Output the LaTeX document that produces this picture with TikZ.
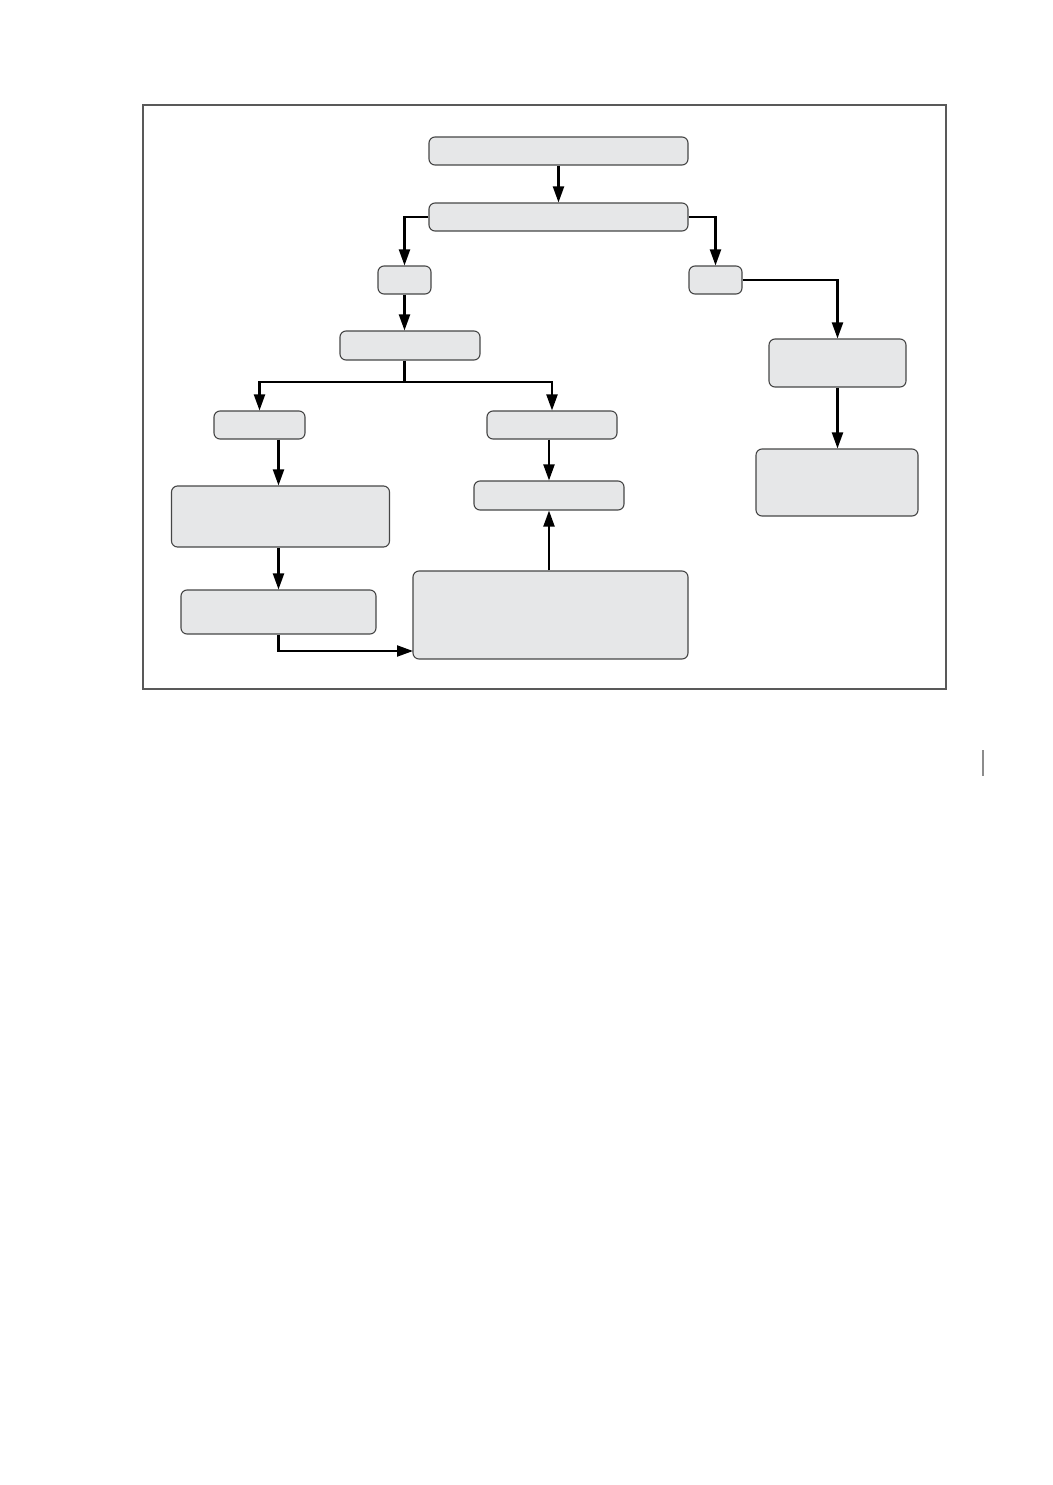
\documentclass[tikz,border=0pt]{standalone}
\usetikzlibrary{arrows.meta}
\usepackage{xcolor}
\definecolor{boxgray}{RGB}{230, 231, 232}
\definecolor{rimgray}{RGB}{70, 70, 70}

\begin{document}
\begin{tikzpicture}[x=1pt,y=-1pt,
    box/.style={draw=rimgray,fill=boxgray,line width=1.1pt,rounded corners=6pt,inner sep=0pt},
    link/.style={line width=2.1pt,-{Triangle[length=16pt,width=11pt]}}]
    \useasboundingbox (0,0) rectangle (1052,1485);
    % outer frame
    \draw[black!65,line width=1.2pt] (143,105) rectangle (946,689);
    %Notation: {name/centre x/centre y/width/height}
    \foreach \nm/\cx/\cy/\w/\h in {
        top/558.5/151/259/28, second/558.5/217/259/28,
        lsmall/404.5/280/53/28, rsmall/715.5/280/53/28,
        mid/410/345.5/140/29,
        lft/259.5/425/91/28, ctr/552/425/130/28,
        rone/837.5/363/137/48, rtwo/837/482.5/162/67,
        lbig/280.5/516.5/218/61, llow/278.5/612/195/44,
        cbox/549/495.5/150/29, big/550.5/615/275/88}{
        \node[box,minimum width=\w pt,minimum height=\h pt] (\nm) at (\cx,\cy) {};% Draw the box
    }
    \coordinate (split) at (404.5,382);
    \coordinate (entry) at (413,651);
    \coordinate (lcol) at (278.5,0);% column of the left arrows
    % Draw the connectors
    \draw[link] (top) -- (second);
    \draw[link] (second.west) -| (lsmall);
    \draw[link] (second.east) -| (rsmall);
    \draw[link] (lsmall) -- (lsmall |- mid.north);
    \draw[line width=2.1pt] (split |- mid.south) -- (split);
    \draw[link] (split) -| (lft);
    \draw[link] (split) -| (ctr);
    \draw[link] (rsmall.east) -| (rone);
    \draw[link] (rone.south) -- (rone.south |- rtwo.north);
    \draw[link] (lft.south -| lcol) -- (lbig.north -| lcol);
    \draw[link] (lbig.south -| lcol) -- (llow.north -| lcol);
    \draw[link] (llow.south) |- (entry);
    \draw[link] (ctr.south -| cbox) -- (cbox);
    \draw[link] (big.north -| cbox) -- (cbox.south);
    % margin mark
    \draw[black!45,line width=1.5pt] (983,750) -- (983,776);
\end{tikzpicture}
\end{document}
